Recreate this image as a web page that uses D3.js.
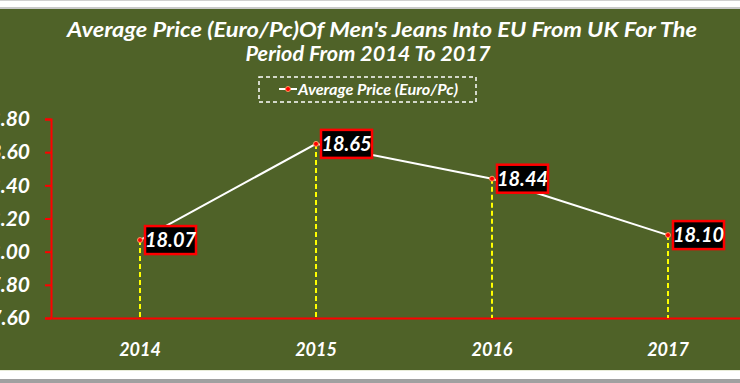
<!DOCTYPE html>
<html>
<head>
<meta charset="utf-8">
<script src="https://cdn.jsdelivr.net/npm/d3@7"></script>
<style>
  body { margin: 0; background: #fff; }
  text { font-family: Lato, "Open Sans", sans-serif; }
</style>
</head>
<body>
<svg id="chart" width="740" height="383"></svg>
<script>
// chart values
var years = ["2014", "2015", "2016", "2017"];
var prices = [18.07, 18.65, 18.44, 18.10];
var yTicks = [17.6, 17.8, 18.0, 18.2, 18.4, 18.6, 18.8];
var titleLines = ["Average Price (Euro/Pc)Of Men's Jeans Into EU From UK For The", "Period From 2014 To 2017"];
var seriesName = "Average Price (Euro/Pc)";

var svg = d3.select("#chart");

// frame of the pasted picture
svg.append("rect").attr("x", 0).attr("y", 0).attr("width", 740).attr("height", 1).attr("fill", "#d0d0d0");
svg.append("rect").attr("x", 0).attr("y", 7).attr("width", 740).attr("height", 2).attr("fill", "#c8c8c8");
svg.append("rect").attr("x", 0).attr("y", 9).attr("width", 740).attr("height", 361).attr("fill", "#4f6228");
svg.append("rect").attr("x", 0).attr("y", 370).attr("width", 740).attr("height", 1).attr("fill", "#e8ecd8");
svg.append("rect").attr("x", 0).attr("y", 379).attr("width", 740).attr("height", 4).attr("fill", "#a0a0a0");

// title
svg.selectAll("text.title")
  .data(titleLines)
  .enter()
  .append("text")
  .attr("class", "title")
  .attr("x", function(d, i) { return i == 0 ? 382 : 368; })
  .attr("y", function(d, i) { return 37 + i * 24; })
  .attr("text-anchor", "middle")
  .attr("fill", "#fff")
  .style("font-size", "20px")
  .style("font-weight", "bold")
  .style("font-style", "italic")
  .attr("textLength", function(d, i) { return i == 0 ? 630 : 245; })
  .attr("lengthAdjust", "spacingAndGlyphs")
  .text(function(d) { return d; });

// legend
var legend = svg.append("g");
legend.append("rect")
  .attr("x", 259).attr("y", 77).attr("width", 217).attr("height", 25)
  .attr("fill", "none").attr("stroke", "#fff").attr("stroke-width", 1.5)
  .attr("stroke-dasharray", "4,3");
legend.append("line")
  .attr("x1", 279).attr("x2", 297).attr("y1", 89).attr("y2", 89)
  .attr("stroke", "#fff").attr("stroke-width", 2);
legend.append("circle")
  .attr("cx", 288).attr("cy", 89).attr("r", 2.5)
  .attr("fill", "#ff0000").attr("stroke", "#ff9a60").attr("stroke-width", 1);
legend.append("text")
  .attr("x", 298).attr("y", 95)
  .attr("fill", "#fff")
  .style("font-size", "16px")
  .style("font-style", "italic")
  .style("font-weight", "bold")
  .attr("textLength", 160)
  .attr("lengthAdjust", "spacingAndGlyphs")
  .text(seriesName);

// scales
var x = d3.scaleBand().domain(years).range([52, 756]);
var y = d3.scaleLinear().domain([17.6, 18.8]).range([318, 119]);

function cx(d) { return x(d) + x.bandwidth() / 2; }

// y axis
var yAxis = svg.append("g")
  .attr("transform", "translate(51,0)")
  .call(d3.axisLeft(y).tickValues(yTicks).tickFormat(d3.format(".2f")).tickSize(6).tickPadding(15));
yAxis.select(".domain").attr("stroke", "#ff0000").attr("stroke-width", 2);
yAxis.selectAll(".tick line").attr("stroke", "#ff0000").attr("stroke-width", 2);
yAxis.selectAll(".tick text")
  .attr("fill", "#fff")
  .style("font-size", "21px")
  .style("font-weight", "bold")
  .style("font-style", "italic")
  .style("font-family", "Lato, sans-serif");

// x axis
var xAxis = svg.append("g")
  .attr("transform", "translate(0,318)")
  .call(d3.axisBottom(x).tickSize(0).tickPadding(25));
xAxis.select(".domain").attr("stroke", "#ff0000").attr("stroke-width", 2);
xAxis.selectAll(".tick text")
  .attr("fill", "#fff")
  .style("font-size", "18px")
  .style("font-weight", "bold")
  .style("font-style", "italic")
  .style("font-family", "Lato, sans-serif");

// drop lines
svg.selectAll("line.drop")
  .data(prices)
  .enter()
  .append("line")
  .attr("class", "drop")
  .attr("x1", function(d, i) { return cx(years[i]); })
  .attr("x2", function(d, i) { return cx(years[i]); })
  .attr("y1", function(d) { return y(d); })
  .attr("y2", y(17.6))
  .attr("stroke", "#ffff00")
  .attr("stroke-width", 2)
  .attr("stroke-dasharray", "5,3");

// line
var line = d3.line()
  .x(function(d, i) { return cx(years[i]); })
  .y(function(d) { return y(d); });
svg.append("path")
  .datum(prices)
  .attr("d", line)
  .attr("fill", "none")
  .attr("stroke", "#fff")
  .attr("stroke-width", 2);

// markers
svg.selectAll("circle.pt")
  .data(prices)
  .enter()
  .append("circle")
  .attr("class", "pt")
  .attr("cx", function(d, i) { return cx(years[i]); })
  .attr("cy", function(d) { return y(d); })
  .attr("r", 2.5)
  .attr("fill", "#ff0000")
  .attr("stroke", "#ff9a60")
  .attr("stroke-width", 1);

// data labels
var lab = svg.selectAll("g.lab")
  .data(prices)
  .enter()
  .append("g")
  .attr("class", "lab")
  .attr("transform", function(d, i) { return "translate(" + (cx(years[i]) + 5) + "," + y(d) + ")"; });
lab.append("rect")
  .attr("x", 0).attr("y", -14).attr("width", 51).attr("height", 28)
  .attr("fill", "#000").attr("stroke", "#ff0000").attr("stroke-width", 2.5);
lab.append("text")
  .attr("x", 25.5).attr("y", 7)
  .attr("text-anchor", "middle")
  .attr("fill", "#fff")
  .style("font-size", "20px")
  .style("font-weight", "bold")
  .style("font-style", "italic")
  .text(function(d) { return d3.format(".2f")(d); });
</script>
</body>
</html>
